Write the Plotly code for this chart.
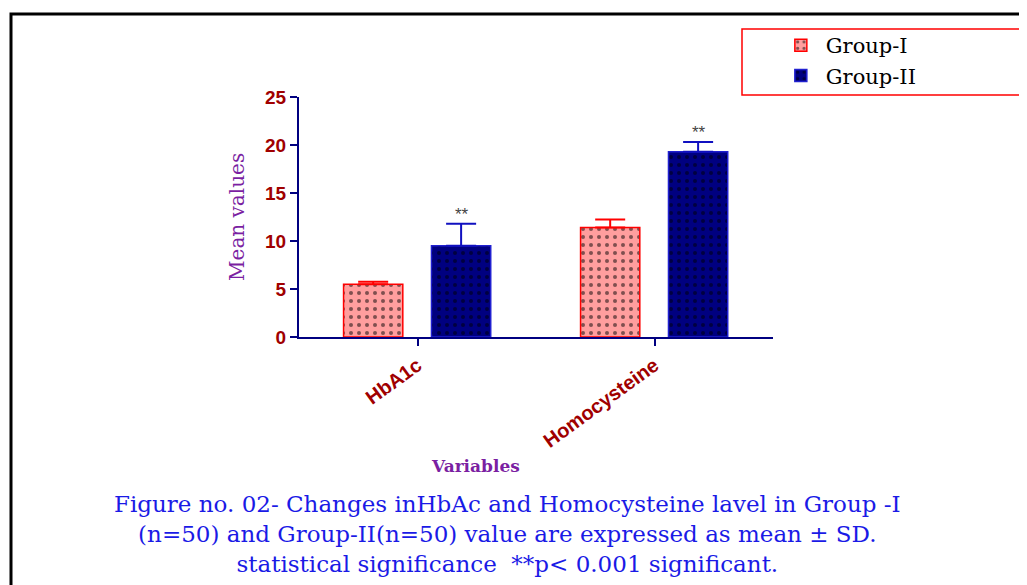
import plotly.graph_objects as go

categories = ["HbA1c", "Homocysteine"]
group_names = ["Group-I", "Group-II"]
group1_mean = [5.5, 11.4]
group1_sd = [0.25, 0.85]
group2_mean = [9.5, 19.3]
group2_sd = [2.3, 1.0]
sig_labels = ["**", "**"]
y_ticks = [0, 5, 10, 15, 20, 25]

caption = ("Figure no. 02- Changes inHbAc and Homocysteine lavel in Group -I<br>"
           "(n=50) and Group-II(n=50) value are expressed as mean ± SD.<br>"
           "statistical significance  **p< 0.001 significant.")

NAVY = "#000080"
DARKRED = "#A00000"
PURPLE = "#7B1FA2"
SERIF = "DejaVu Serif"

fig = go.Figure()
fig.add_trace(go.Bar(
    x=categories, y=group1_mean, name=group_names[0],
    width=0.25, offset=-0.312,
    marker=dict(color="#FF9E9E", line=dict(color="#FF0000", width=1.5),
                pattern=dict(shape=".", fgcolor="black", bgcolor="#FF9E9E", size=8, solidity=0.2)),
    error_y=dict(type="data", array=group1_sd, arrayminus=[0]*len(group1_sd), symmetric=False,
                 color="#FF0000", thickness=2, width=15),
))
fig.add_trace(go.Bar(
    x=categories, y=group2_mean, name=group_names[1],
    width=0.25, offset=0.059,
    marker=dict(color=NAVY, line=dict(color="#2020D0", width=1.5),
                pattern=dict(shape=".", fgcolor="black", bgcolor=NAVY, size=8, solidity=0.2)),
    error_y=dict(type="data", array=group2_sd, arrayminus=[0]*len(group2_sd), symmetric=False,
                 color="#1010C0", thickness=2, width=15),
))

annotations = []
for i, c in enumerate(categories):
    annotations.append(dict(x=c, y=group2_mean[i] + group2_sd[i], xref="x", yref="y",
                            text=sig_labels[i], showarrow=False, xshift=44, yanchor="bottom",
                            yshift=-2,
                            font=dict(family="Liberation Sans", size=17, color="#444444")))
annotations.append(dict(x=-0.131, y=0.5, xref="paper", yref="paper", text="Mean values",
                        textangle=-90, showarrow=False, xanchor="center", yanchor="middle",
                        font=dict(family=SERIF, size=20, color=PURPLE)))
annotations.append(dict(x=0.373, y=-0.5375, xref="paper", yref="paper", text="<b>Variables</b>",
                        showarrow=False, xanchor="center", yanchor="middle",
                        font=dict(family=SERIF, size=17, color=PURPLE)))
annotations.append(dict(x=0.439, y=-0.6325, xref="paper", yref="paper", text=caption,
                        showarrow=False, xanchor="center", yanchor="top", align="center",
                        font=dict(family=SERIF, size=23, color="#1A1AE6")))

fig.update_layout(
    width=1019, height=577,
    margin=dict(l=291, r=254, t=89, b=248),
    paper_bgcolor="white", plot_bgcolor="white",
    barmode="overlay",
    showlegend=True,
    legend=dict(x=1.006, y=1.30, xanchor="left", yanchor="top",
                borderwidth=0, bgcolor="rgba(0,0,0,0)",
                font=dict(family=SERIF, size=21, color="black"),
                itemwidth=40, tracegroupgap=2),
    annotations=annotations,
    shapes=[
        dict(type="rect", xref="paper", yref="paper", x0=-0.6076, x1=2, y0=-2, y1=1.346,
             line=dict(color="black", width=3)),
        dict(type="rect", xref="paper", yref="paper", x0=0.9346, x1=1.525, y0=1.008, y1=1.283,
             line=dict(color="#FF0000", width=1.5)),
    ],
)
fig.update_xaxes(range=[-0.5, 1.5], showline=True, linecolor=NAVY, linewidth=2,
                 ticks="outside", ticklen=7, tickwidth=2, tickcolor=NAVY,
                 tickangle=-36, showgrid=False,
                 tickfont=dict(family="Liberation Sans", size=20, color=DARKRED, weight="bold"))
fig.update_yaxes(range=[0, 25], tickvals=y_ticks, showline=True, linecolor=NAVY, linewidth=2,
                 ticks="outside", ticklen=7, tickwidth=2, tickcolor=NAVY, showgrid=False,
                 zeroline=False,
                 tickfont=dict(family="Liberation Sans", size=19, color=DARKRED, weight="bold"))

fig.write_html("out.html")
